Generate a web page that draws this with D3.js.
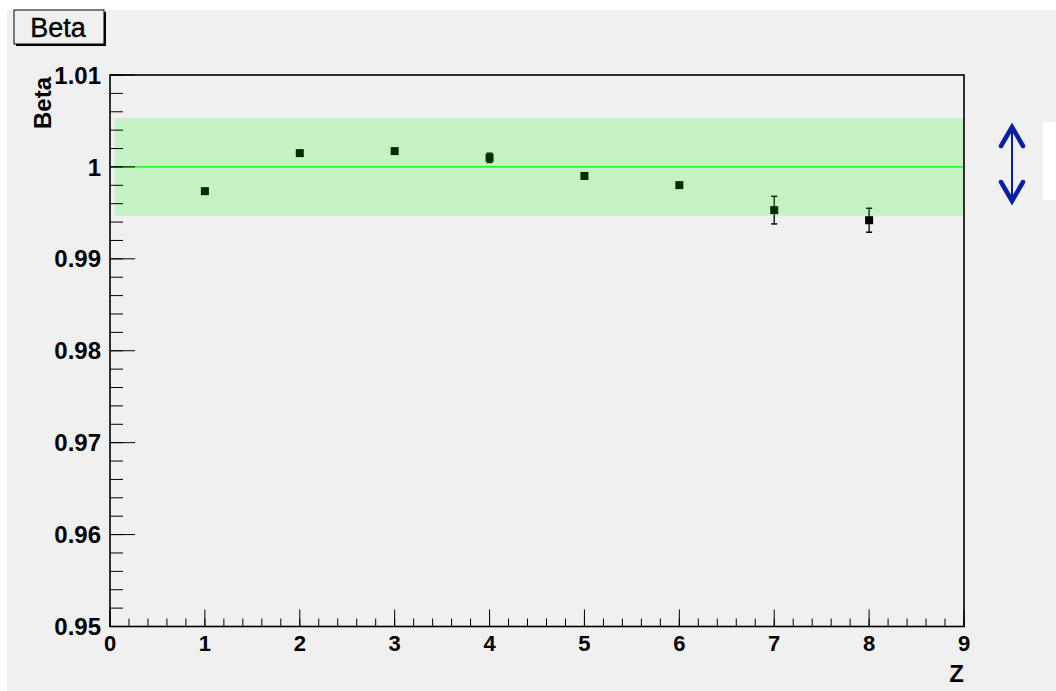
<!DOCTYPE html>
<html>
<head>
<meta charset="utf-8">
<script src="https://cdn.jsdelivr.net/npm/d3@7"></script>
<style>
html,body{margin:0;padding:0;background:#fff;}
svg{display:block;}
text{font-family:"Liberation Sans",Arial,Helvetica,sans-serif;}
</style>
</head>
<body>
<svg id="chart" width="1056" height="691"></svg>
<script>
// ---- data ----
const zValues = [1, 2, 3, 4, 5, 6, 7, 8];
const betaValues = [0.99736, 1.00150, 1.00172, 1.00099, 0.99902, 0.99802, 0.99530, 0.99420];
const betaErrors = [0.0001, 0.0001, 0.0001, 0.0005, 0.0003, 0.0001, 0.0015, 0.0013];
const xTicks = [0, 1, 2, 3, 4, 5, 6, 7, 8, 9];
const yTicks = [0.95, 0.96, 0.97, 0.98, 0.99, 1.00, 1.01];
const yTickLabels = ["0.95", "0.96", "0.97", "0.98", "0.99", "1", "1.01"];
const bandRange = [0.9947, 1.0053];
const bandX = [0.05, 9];
const refLine = 1.0;
const titleText = "Beta";
const xTitle = "Z";
const yTitle = "Beta";

const svg = d3.select("#chart");
const W = 1056, H = 691;
const L = 110, R = 964, T = 75, B = 626.5;

const x = d3.scaleLinear().domain([0, 9]).range([L, R]);
const y = d3.scaleLinear().domain([0.95, 1.01]).range([B, T]);

// pad background
svg.append("rect").attr("x", 7).attr("y", 10).attr("width", W - 7).attr("height", H - 10).attr("fill", "#f0f0f0");

// frame
svg.append("rect").attr("x", L).attr("y", T).attr("width", R - L).attr("height", B - T)
  .attr("fill", "#f0f0f0");

// data points with error bars
const pts = zValues.map((z, i) => ({z, v: betaValues[i], e: betaErrors[i]}));
const g = svg.append("g");
g.selectAll("line.err").data(pts).enter().append("line")
  .attr("x1", d => x(d.z)).attr("x2", d => x(d.z))
  .attr("y1", d => y(d.v - d.e)).attr("y2", d => y(d.v + d.e))
  .attr("stroke", "#000").attr("stroke-width", 1.3);
[-1, 1].forEach(s => {
  g.selectAll(null).data(pts.filter(d => y(d.v - d.e) - y(d.v + d.e) > 9)).enter().append("line")
    .attr("x1", d => x(d.z) - 3).attr("x2", d => x(d.z) + 3)
    .attr("y1", d => y(d.v + s * d.e)).attr("y2", d => y(d.v + s * d.e))
    .attr("stroke", "#000").attr("stroke-width", 1.5);
});
g.selectAll("rect.pt").data(pts).enter().append("rect")
  .attr("x", d => x(d.z) - 4).attr("y", d => y(d.v) - 4)
  .attr("width", 8).attr("height", 8).attr("fill", "#000");

// transparent band on top
svg.append("rect")
  .attr("x", x(bandX[0])).attr("width", x(bandX[1]) - x(bandX[0]))
  .attr("y", y(bandRange[1])).attr("height", y(bandRange[0]) - y(bandRange[1]))
  .attr("fill", "rgb(0,255,0)").attr("fill-opacity", 0.175);

// reference line
svg.append("line").attr("x1", L).attr("x2", R).attr("y1", y(refLine)).attr("y2", y(refLine))
  .attr("stroke", "#00ee00").attr("stroke-width", 1.3);

// y ticks
const yMinor = d3.range(0, 31).map(i => 0.95 + i * 0.002);
svg.selectAll(null).data(yMinor).enter().append("line")
  .attr("x1", L).attr("x2", L + 13).attr("y1", d => y(d)).attr("y2", d => y(d))
  .attr("stroke", "#000").attr("stroke-width", 1);
svg.selectAll(null).data(yTicks).enter().append("line")
  .attr("x1", L).attr("x2", L + 25).attr("y1", d => y(d)).attr("y2", d => y(d))
  .attr("stroke", "#000").attr("stroke-width", 1);
// x ticks
const xMinor = d3.range(0, 46).map(i => i * 0.2);
svg.selectAll(null).data(xMinor).enter().append("line")
  .attr("x1", d => x(d)).attr("x2", d => x(d)).attr("y1", B).attr("y2", B - 8)
  .attr("stroke", "#000").attr("stroke-width", 1);
svg.selectAll(null).data(xTicks).enter().append("line")
  .attr("x1", d => x(d)).attr("x2", d => x(d)).attr("y1", B).attr("y2", B - 17)
  .attr("stroke", "#000").attr("stroke-width", 1);

// frame border
svg.append("rect").attr("x", L).attr("y", T).attr("width", R - L).attr("height", B - T)
  .attr("fill", "none").attr("stroke", "#000").attr("stroke-width", 1.6);

// tick labels
svg.selectAll(null).data(yTicks).enter().append("text")
  .attr("x", 101).attr("y", d => y(d)).attr("dy", "0.36em")
  .attr("text-anchor", "end").attr("font-weight", "bold").attr("font-size", 24)
  .attr("fill", "#000").text((d, i) => yTickLabels[i]);
svg.selectAll(null).data(xTicks).enter().append("text")
  .attr("x", d => x(d)).attr("y", 651)
  .attr("text-anchor", "middle").attr("font-weight", "bold").attr("font-size", 22)
  .attr("fill", "#000").text(d => d);

// axis titles
svg.append("text").attr("x", 964).attr("y", 682).attr("text-anchor", "end")
  .attr("font-weight", "bold").attr("font-size", 24).text(xTitle);
svg.append("text").attr("transform", "translate(51,77) rotate(-90)").attr("text-anchor", "end")
  .attr("font-weight", "bold").attr("font-size", 24).text(yTitle);

// title box
svg.append("rect").attr("x", 16).attr("y", 12).attr("width", 90).attr("height", 34).attr("fill", "#000");
svg.append("rect").attr("x", 14).attr("y", 10).attr("width", 90).attr("height", 34)
  .attr("fill", "#f0f0f0").attr("stroke", "#000").attr("stroke-width", 1);
svg.append("text").attr("x", 58).attr("y", 37).attr("text-anchor", "middle")
  .attr("font-size", 27).attr("stroke", "#000").attr("stroke-width", 0.4).text(titleText);

// white rect right
svg.append("rect").attr("x", 1043).attr("y", 122).attr("width", 13).attr("height", 78).attr("fill", "#fff");

// double arrow
const ax = 1012, aTop = 127, aBot = 201;
const blue = "#0b1ea6";
svg.append("line").attr("x1", ax).attr("x2", ax).attr("y1", aTop + 2).attr("y2", aBot - 2)
  .attr("stroke", blue).attr("stroke-width", 2);
svg.append("path").attr("d", `M${ax - 11},${aTop + 19} L${ax},${aTop} L${ax + 11},${aTop + 19}`)
  .attr("fill", "none").attr("stroke", blue).attr("stroke-width", 4.5).attr("stroke-linecap", "round").attr("stroke-linejoin", "miter");
svg.append("path").attr("d", `M${ax - 11},${aBot - 19} L${ax},${aBot} L${ax + 11},${aBot - 19}`)
  .attr("fill", "none").attr("stroke", blue).attr("stroke-width", 4.5).attr("stroke-linecap", "round").attr("stroke-linejoin", "miter");
</script>
</body>
</html>
